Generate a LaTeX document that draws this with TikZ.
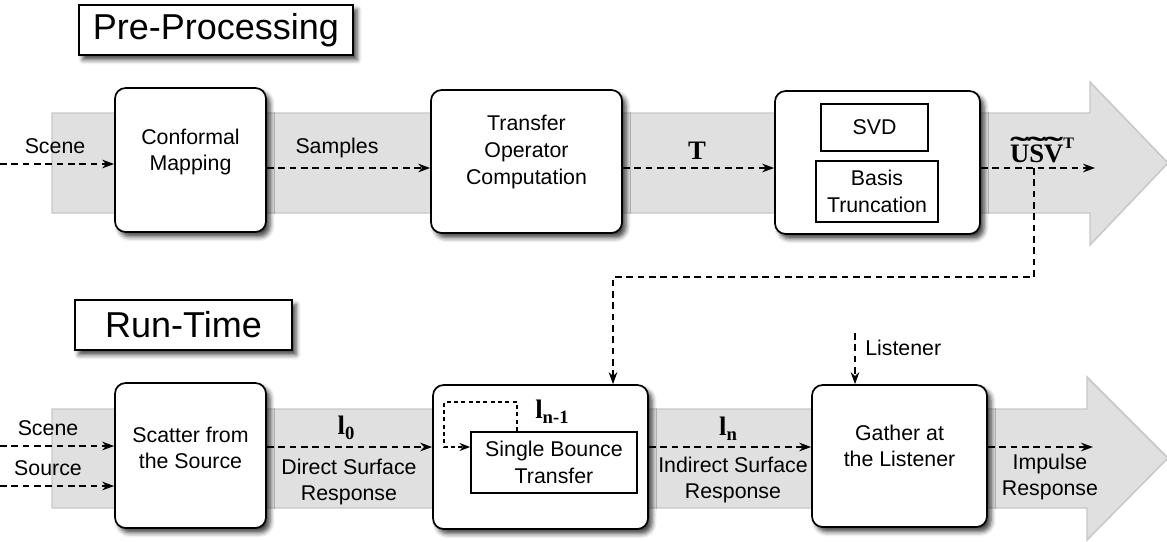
\documentclass[tikz,border=0pt]{standalone}
\usepackage{fontspec}
\setmainfont{Liberation Sans}
\newfontfamily\tnr{Liberation Serif}
\newcommand\tnrb{\tnr\bfseries}
\usetikzlibrary{arrows.meta,fit,shadows.blur}
\tikzset{
  band/.style={fill=black!12, draw=black!22, line width=1.1pt},
  shad/.style={blur shadow={shadow xshift=3pt, shadow yshift=-3.5pt, shadow blur radius=3.5pt, shadow opacity=75}},
  box/.style={draw, line width=1.3pt, rounded corners=8pt, fill=white, inner sep=0pt, shad},
  ibox/.style={draw, line width=1.3pt, fill=white, inner sep=0pt},
  ttl/.style={draw, line width=1.6pt, fill=white, inner sep=0pt, shad},
  ttltxt/.style={font=\fontsize{27}{30}\selectfont, inner sep=0pt},
  txt/.style={align=center, font=\fontsize{16}{20}\selectfont, inner sep=0pt},
  mlab/.style={font=\fontsize{20}{22}\selectfont\tnrb, inner sep=0pt},
  arr/.style={line width=1.2pt, dash pattern=on 5pt off 3.5pt, -{Stealth[length=9pt,width=6.5pt]}},
  sarr/.style={line width=1.1pt, dash pattern=on 3pt off 2.5pt, -{Stealth[length=8pt,width=6pt]}},
}
\newcommand\subl[1]{\raisebox{-0.2em}{\fontsize{14}{14}\selectfont #1}}
\newcommand\tld[1]{\setbox0\hbox{#1}\rlap{\hbox to\wd0{\hss\raisebox{0.2em}{\scalebox{2.1}[1.1]{\char"02DC}}\hss}}\box0}
\begin{document}
\begin{tikzpicture}[x=0.75pt,y=-0.75pt]
\useasboundingbox (0,0) rectangle (1167,542);
% background bands
\path[band] (52,113) -- (1090,113) -- (1090,82) -- (1168,163) -- (1090,245) -- (1090,213) -- (52,213) -- cycle;
\path[band] (52,409) -- (1087,409) -- (1087,377) -- (1168,458) -- (1087,540) -- (1087,508) -- (52,508) -- cycle;

% titles
\node[ttl, fit={(79,5) (353,55)}] (tpre) {};
\node[ttltxt] (tpretxt) at (216,30) {Pre-Processing};
\node[ttl, fit={(75,300) (292,350)}] (trun) {};
\node[ttltxt] (truntxt) at (183.5,325) {Run-Time};

% top row
\node[box, fit={(115,88) (266,232)}] (cm) {};
\node[txt] (cmtxt) at (190.5,152) {Conformal\\Mapping};
\node[box, fit={(431,90) (622,233)}] (to) {};
\node[txt] (totxt) at (526.5,152) {Transfer\\Operator\\Computation};
\node[box, fit={(775,91) (980,234)}] (sv) {};
\node[ibox, fit={(821,104) (928,151)}] (svd) {};
\node[txt] (svdtxt) at (svd.center) {SVD};
\node[ibox, fit={(816,161) (938,222)}] (bt) {};
\node[txt] (bttxt) at (bt.center) {Basis\\Truncation};

\coordinate (ty) at (0,168);
\coordinate (sceneT) at (0,164);
\coordinate (outT) at (1095,168);
\coordinate (brk) at (1034,168);
\coordinate (midy) at (0,277);
\coordinate (dnx) at (613,0);

\draw[arr] (sceneT) -- (sceneT -| cm.west);
\draw[arr] (cm.east |- ty) -- (to.west |- ty);
\draw[arr] (to.east |- ty) -- (sv.west |- ty);
\draw[arr] (sv.east |- ty) -- (outT);

\node[txt] (lscene1) at (55,146) {Scene};
\node[txt] (lsamples) at (337,148) {Samples};
\node[mlab] (lT) at (697,151) {T};
\node[mlab] (lusv) at (1042,150) {\tld{U}\tld{S}\tld{V}\raisebox{0.55em}{\fontsize{12}{12}\selectfont T}};

% bottom row
\node[box, fit={(115,383) (266,528)}] (sc) {};
\node[txt] (sctxt) at (190.5,448) {Scatter from\\the Source};
\node[box, fit={(433,385) (648,529)}] (sb) {};
\node[ibox, fit={(471,432) (637,493)}] (in) {};
\node[txt] (intxt) at (in.center) {Single Bounce\\Transfer};
\node[box, fit={(812,385) (987,527)}] (ga) {};
\node[txt] (gatxt) at (899.5,446) {Gather at\\the Listener};

\coordinate (by) at (0,447);
\coordinate (sceneB) at (0,446);
\coordinate (sourceB) at (0,486);
\coordinate (outB) at (1093,447);
\coordinate (lstn) at (855,333);
\coordinate (lpx) at (517,0);
\coordinate (lpy) at (0,402);
\coordinate (lplx) at (444,0);

\draw[arr] (sceneB) -- (sceneB -| sc.west);
\draw[arr] (sourceB) -- (sourceB -| sc.west);
\draw[arr] (sc.east |- by) -- (sb.west |- by);
\draw[arr] (sb.east |- by) -- (ga.west |- by);
\draw[arr] (ga.east |- by) -- (outB);
\draw[arr] (lstn) -- (lstn |- ga.north);
\draw[arr] (brk) -- (brk |- midy) -- (dnx |- midy) -- (dnx |- sb.north);
\draw[sarr] (lpx |- in.north) -- (lpx |- lpy) -- (lplx |- lpy) -- (lplx |- by) -- (in.west |- by);

\node[txt] (lscene2) at (48,428) {Scene};
\node[txt] (lsource) at (48,468) {Source};
\node[mlab] (l0) at (346,428) {l\subl{0}};
\node[txt] (ldsr) at (349,482) {Direct Surface\\Response};
\node[mlab] (lnm1) at (552,412) {l\subl{n-1}};
\node[mlab] (ln) at (728,429) {l\subl{n}};
\node[txt] (lisr) at (733,480) {Indirect Surface\\Response};
\node[txt] (lir) at (1050,477) {Impulse\\Response};
\node[txt, anchor=west] (llst) at (865,348) {Listener};
\end{tikzpicture}
\end{document}
